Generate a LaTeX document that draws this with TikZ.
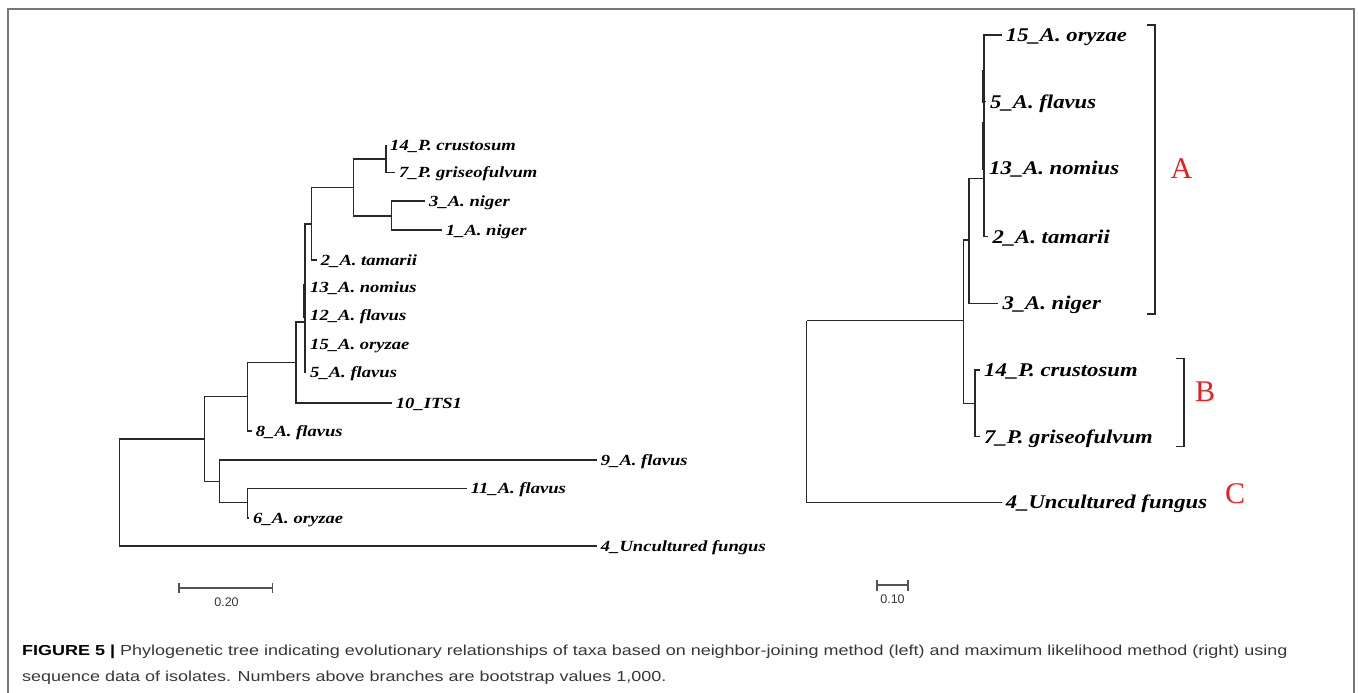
\documentclass[tikz,border=0pt]{standalone}
\usepackage{fontspec}
\setmainfont{Liberation Serif}
\newfontfamily\lfont[FakeStretch=1.2]{Liberation Serif}
\newfontfamily\rfont[FakeStretch=1.17]{Liberation Serif}
\newfontfamily\capfont[FakeStretch=1.24]{Liberation Sans}
\newfontfamily\scfont{Liberation Sans}
\definecolor{treecol}{RGB}{40,40,40}
\definecolor{framecol}{RGB}{120,120,120}
\definecolor{captxt}{RGB}{55,55,55}
\definecolor{cladered}{RGB}{235,30,30}
\tikzset{
  branch/.style={draw=treecol, line width=1.3pt},
  thickbranch/.style={draw=treecol, line width=2.4pt},
  lleaf/.style={anchor=west, inner xsep=4pt, inner ysep=0pt, text=black,
    font={\lfont\bfseries\itshape\fontsize{15.5pt}{15.5pt}\selectfont},
    text height=12pt, text depth=2pt},
  rleaf/.style={anchor=west, inner xsep=4pt, inner ysep=0pt, text=black,
    font={\rfont\bfseries\itshape\fontsize{19.4pt}{19.4pt}\selectfont},
    text height=15pt, text depth=2pt},
  cladelbl/.style={text=cladered, inner sep=0pt,
    font={\fontsize{30pt}{30pt}\selectfont}},
  bracket/.style={draw=treecol, line width=1.3pt},
  scalebar/.style={draw=treecol!80, line width=1.3pt},
  scalelbl/.style={text=captxt, inner sep=0pt,
    font={\scfont\fontsize{12.5pt}{12.5pt}\selectfont}},
  caption/.style={anchor=base west, inner sep=0pt, text=captxt,
    font={\capfont\fontsize{14.5pt}{14.5pt}\selectfont}},
  framebox/.style={draw=framecol, line width=2pt}
}
\begin{document}
\begin{tikzpicture}[x=1pt,y=-1pt]
\useasboundingbox (0,0) rectangle (1358,693);
% frame
\draw[framebox] (8,693) -- (8,9) -- (1354,9) -- (1354,693);

% ---------- left tree: internal nodes ----------
\coordinate (L0) at (119.3,439);
\coordinate (L4) at (204.3,439);
\coordinate (L3) at (247.7,396.7);
\coordinate (L1) at (296,362.7);
\coordinate (L2) at (305,322);
\coordinate (L7) at (311.7,224);
\coordinate (L8) at (353.3,187.3);
\coordinate (L9) at (386,159);
\coordinate (L10) at (391.7,216);
\coordinate (L5) at (219.3,481.7);
\coordinate (L6) at (247.7,502.7);
% leaves
\node[lleaf] (l14) at (386,145) {14\_P. crustosum};
\node[lleaf] (l7) at (395,172.7) {7\_P. griseofulvum};
\node[lleaf] (l3) at (425,201) {3\_A. niger};
\node[lleaf] (l1) at (441.7,230) {1\_A. niger};
\node[lleaf] (l2) at (316.7,260) {2\_A. tamarii};
\node[lleaf] (l13) at (306,287) {13\_A. nomius};
\node[lleaf] (l12) at (306,315) {12\_A. flavus};
\node[lleaf] (l15) at (306,344) {15\_A. oryzae};
\node[lleaf] (l5) at (306,372) {5\_A. flavus};
\node[lleaf] (l10) at (391.7,403) {10\_ITS1};
\node[lleaf] (l8) at (251.7,431) {8\_A. flavus};
\node[lleaf] (l9) at (596.7,460) {9\_A. flavus};
\node[lleaf] (l11) at (466.7,488.3) {11\_A. flavus};
\node[lleaf] (l6) at (249,518) {6\_A. oryzae};
\node[lleaf] (l4) at (596.7,546) {4\_Uncultured fungus};
% branches
\draw[branch] (L0) |- (L4);
\draw[branch] (L0) |- (l4);
\draw[branch] (L4) |- (L3);
\draw[branch] (L4) |- (L5);
\draw[branch] (L3) |- (L1);
\draw[branch] (L3) |- (l8);
\draw[branch] (L1) |- (L2);
\draw[branch] (L1) |- (l10);
\draw[branch] (L2) |- (L7);
\draw[branch] (L2) |- (l13);
\draw[branch] (L2) |- (l12);
\draw[branch] (L2) |- (l15);
\draw[branch] (L2) |- (l5);
\draw[thickbranch] (304.5,284) -- (304.5,318);
\draw[branch] (L7) |- (L8);
\draw[branch] (L7) |- (l2);
\draw[branch] (L8) |- (L9);
\draw[branch] (L8) |- (L10);
\draw[branch] (L9) |- (l14);
\draw[branch] (L9) |- (l7);
\draw[branch] (L10) |- (l3);
\draw[branch] (L10) |- (l1);
\draw[branch] (L5) |- (l9);
\draw[branch] (L5) |- (L6);
\draw[branch] (L6) |- (l11);
\draw[branch] (L6) |- (l6);

% ---------- right tree ----------
\coordinate (R0) at (806.7,320.7);
\coordinate (R1) at (963.3,320.7);
\coordinate (RA) at (969,240);
\coordinate (RA2) at (984,178.3);
\coordinate (RB) at (975,403.3);
\node[rleaf] (r15) at (1001.7,35) {15\_A. oryzae};
\node[rleaf] (r5) at (986,101.7) {5\_A. flavus};
\node[rleaf] (r13) at (985,168.3) {13\_A. nomius};
\node[rleaf] (r2) at (988.3,236.7) {2\_A. tamarii};
\node[rleaf] (r3) at (998.3,303.3) {3\_A. niger};
\node[rleaf] (r14) at (980,370) {14\_P. crustosum};
\node[rleaf] (r7) at (980,436.7) {7\_P. griseofulvum};
\node[rleaf] (r4) at (1001.7,502.3) {4\_Uncultured fungus};
\draw[branch] (R0) |- (R1);
\draw[branch] (R0) |- (r4);
\draw[branch] (R1) |- (RA);
\draw[branch] (R1) |- (RB);
\draw[branch] (RA) |- (RA2);
\draw[branch] (RA) |- (r3);
\draw[branch] (RA2) |- (r15);
\draw[branch] (RA2) |- (r5);
\draw[branch] (RA2) |- (r13);
\draw[branch] (RA2) |- (r2);
\draw[thickbranch] (983.5,70) -- (983.5,103);
\draw[thickbranch] (983.5,121.7) -- (983.5,170);
\draw[branch] (RB) |- (r14);
\draw[branch] (RB) |- (r7);

% clade brackets and labels
\draw[bracket] (1146.7,25) -- (1155,25) -- (1155,314) -- (1146.7,314);
\draw[bracket] (1176,358.3) -- (1184,358.3) -- (1184,446.7) -- (1176,446.7);
\node[cladelbl] (cA) at (1181.5,169) {A};
\node[cladelbl] (cB) at (1205,392) {B};
\node[cladelbl] (cC) at (1235,494) {C};

% scale bars
\draw[scalebar] (179,582.7) -- (179,593.3);
\draw[scalebar] (272.5,582.7) -- (272.5,593.3);
\draw[scalebar] (179,588) -- (272.5,588);
\node[scalelbl] (s1) at (226.5,602) {0.20};
\draw[scalebar] (877,580) -- (877,590.5);
\draw[scalebar] (908,580) -- (908,590.5);
\draw[scalebar] (877,585) -- (908,585);
\node[scalelbl] (s2) at (892.5,599) {0.10};

% caption
\node[caption] (cap1) at (22,655) {\textcolor{black}{\bfseries FIGURE 5 |} Phylogenetic tree indicating evolutionary relationships of taxa based on neighbor-joining method (left) and maximum likelihood method (right) using};
\node[caption] (cap2) at (22,681) {sequence data of isolates. Numbers above branches are bootstrap values 1,000.};
\end{tikzpicture}
\end{document}
